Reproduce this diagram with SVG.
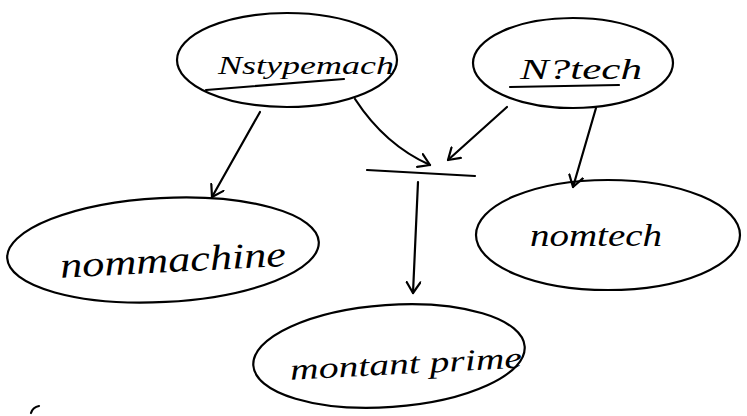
<svg xmlns="http://www.w3.org/2000/svg" width="747" height="416" viewBox="0 0 747 416">
  <style>
    .shape { fill: none; stroke: #000; stroke-width: 2.2; stroke-linecap: round; stroke-linejoin: round; }
    .label { font-family: "Liberation Serif", "DejaVu Serif", serif; font-style: italic; fill: #000; }
    .wire { fill: none; stroke: #000; stroke-width: 2.2; stroke-linecap: round; }
  </style>
  <defs>
    <marker id="open" markerWidth="16" markerHeight="16" refX="12" refY="8" orient="auto" markerUnits="userSpaceOnUse">
      <polyline points="1,1 12,8 1,15" fill="none" stroke="#000" stroke-width="2.2" stroke-linecap="round" stroke-linejoin="round"/>
    </marker>
  </defs>
  <rect width="747" height="416" fill="#fff"/>

  <g id="node-nstypemach">
    <ellipse class="shape" cx="287" cy="60" rx="110" ry="47"/>
    <text class="label" x="218" y="74" font-size="26" textLength="176" lengthAdjust="spacingAndGlyphs">Nstypemach</text>
    <line class="shape" x1="206" y1="90" x2="344" y2="79"/>
  </g>

  <g id="node-ntech">
    <ellipse class="shape" cx="573" cy="63" rx="100" ry="45"/>
    <text class="label" x="520" y="79" font-size="30" textLength="122" lengthAdjust="spacingAndGlyphs">N?tech</text>
    <line class="shape" x1="510" y1="87" x2="619" y2="85"/>
  </g>

  <g id="node-nommachine">
    <ellipse class="shape" cx="163" cy="250" rx="156" ry="52" transform="rotate(-3 163 250)"/>
    <text class="label" x="60" y="272" font-size="36" textLength="226" lengthAdjust="spacingAndGlyphs" transform="rotate(-3 170 260)">nommachine</text>
  </g>

  <g id="node-nomtech">
    <ellipse class="shape" cx="608" cy="235" rx="132" ry="55"/>
    <text class="label" x="530" y="246" font-size="32" textLength="132" lengthAdjust="spacingAndGlyphs">nomtech</text>
  </g>

  <g id="node-montant-prime">
    <ellipse class="shape" cx="389" cy="356" rx="136" ry="51" transform="rotate(-4 389 356)"/>
    <text class="label" x="290" y="374" font-size="30" textLength="232" lengthAdjust="spacingAndGlyphs" transform="rotate(-3 400 365)">montant prime</text>
  </g>

  <g id="connectors">
    <line class="wire" x1="367" y1="170" x2="475" y2="176"/>
    <path class="wire" d="M355 99 Q385 145 430 165" marker-end="url(#open)"/>
    <path class="wire" d="M507 107 L448 160" marker-end="url(#open)"/>
    <path class="wire" d="M418 182 L413 293" marker-end="url(#open)"/>
    <path class="wire" d="M260 112 L212 197" marker-end="url(#open)"/>
    <path class="wire" d="M596 108 L573 187" marker-end="url(#open)"/>
  </g>

  <path class="shape" d="M31 413 Q33 407 39 406" stroke-width="3"/>
</svg>
